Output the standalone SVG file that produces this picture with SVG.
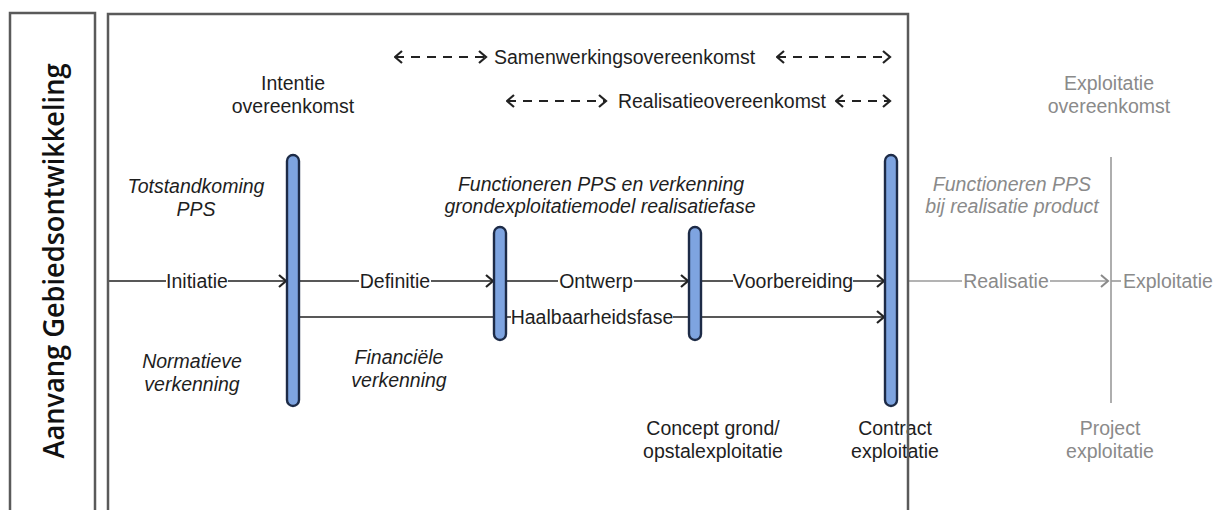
<svg xmlns="http://www.w3.org/2000/svg" width="1223" height="510" viewBox="0 0 1223 510">
  <style>
    .t { font-family: "Liberation Sans", Arial, sans-serif; font-size: 19.5px; fill: #1e1e1e; }
    .m { text-anchor: middle; }
    .i { font-style: italic; }
    .g { fill: #8a8a8a; }
    .ln { stroke: #222; stroke-width: 1.6; fill: none; }
    .gl { stroke: #9a9a9a; stroke-width: 1.6; fill: none; }
    .dash { stroke: #222; stroke-width: 2; fill: none; stroke-dasharray: 9 7; }
    .bar { fill: #7ea4e0; stroke: #1d2b47; stroke-width: 2.4; }
    .frame { fill: none; stroke: #5a5a5a; stroke-width: 2.5; }
    .title { font-family: "Open Sans", "Noto Sans", sans-serif; font-weight: 600; font-size: 29px; fill: #111; text-anchor: middle; }
  </style>
  <defs>
    <marker id="chev" viewBox="0 0 10 14" refX="8.5" refY="7" markerWidth="10" markerHeight="14" markerUnits="userSpaceOnUse" orient="auto-start-reverse">
      <path d="M1.5,1 L8.5,7 L1.5,13" fill="none" stroke="#222" stroke-width="2.2"/>
    </marker>
    <marker id="chevGrey" viewBox="0 0 10 14" refX="8.5" refY="7" markerWidth="10" markerHeight="14" markerUnits="userSpaceOnUse" orient="auto">
      <path d="M1.5,1 L8.5,7 L1.5,13" fill="none" stroke="#8a8a8a" stroke-width="2"/>
    </marker>
  </defs>

  <rect width="1223" height="510" fill="#fff"/>

  <!-- phase arrows and agreement spans -->
  <g id="connectors">
    <path class="ln" d="M107 281 H166 M228 281 H286" marker-end="url(#chev)"/>
    <path class="ln" d="M299 281 H359 M431 281 H493" marker-end="url(#chev)"/>
    <path class="ln" d="M507 281 H558 M634 281 H688" marker-end="url(#chev)"/>
    <path class="ln" d="M702 281 H733 M853 281 H884" marker-end="url(#chev)"/>
    <path class="ln" d="M299 317 H511 M673 317 H884" marker-end="url(#chev)"/>
    <path class="gl" d="M909 281 H962 M1050 281 H1108" marker-end="url(#chevGrey)"/>
    <path class="gl" d="M1111 281 H1121"/>

    <path class="dash" d="M395 57 H486" marker-start="url(#chev)" marker-end="url(#chev)"/>
    <path class="dash" d="M777 57 H890" marker-start="url(#chev)" marker-end="url(#chev)"/>
    <path class="dash" d="M507 101 H606" marker-start="url(#chev)" marker-end="url(#chev)"/>
    <path class="dash" d="M836 101 H890" marker-start="url(#chev)" marker-end="url(#chev)"/>

    <text class="t m" x="197" y="288">Initiatie</text>
    <text class="t m" x="395" y="288">Definitie</text>
    <text class="t m" x="596" y="288">Ontwerp</text>
    <text class="t m" x="793" y="288">Voorbereiding</text>
    <text class="t m" x="592" y="324">Haalbaarheidsfase</text>
    <text class="t m g" x="1006" y="288">Realisatie</text>
    <text class="t g" x="1123" y="288">Exploitatie</text>

    <text class="t" x="494" y="64">Samenwerkingsovereenkomst</text>
    <text class="t m" x="722" y="108">Realisatieovereenkomst</text>
  </g>

  <!-- milestones -->
  <g id="milestone-intentie">
    <rect class="bar" x="287" y="155" width="12" height="251" rx="6"/>
    <text class="t m" x="293" y="90">Intentie</text>
    <text class="t m" x="293" y="113">overeenkomst</text>
  </g>
  <g id="milestone-definitie">
    <rect class="bar" x="494" y="227" width="12" height="113" rx="6"/>
  </g>
  <g id="milestone-ontwerp">
    <rect class="bar" x="689" y="227" width="12" height="113" rx="6"/>
    <text class="t m" x="713" y="435">Concept grond/</text>
    <text class="t m" x="713" y="458">opstalexploitatie</text>
  </g>
  <g id="milestone-contract">
    <rect class="bar" x="885" y="155" width="12" height="251" rx="6"/>
    <text class="t m" x="895" y="435">Contract</text>
    <text class="t m" x="895" y="458">exploitatie</text>
  </g>
  <g id="milestone-exploitatie">
    <path class="gl" d="M1111 157 V403"/>
    <text class="t m g" x="1109" y="90">Exploitatie</text>
    <text class="t m g" x="1109" y="113">overeenkomst</text>
    <text class="t m g" x="1110" y="435">Project</text>
    <text class="t m g" x="1110" y="458">exploitatie</text>
  </g>

  <!-- phase descriptions -->
  <g id="notes">
    <text class="t m i" x="196" y="193">Totstandkoming</text>
    <text class="t m i" x="196" y="216">PPS</text>
    <text class="t m i" x="192" y="368">Normatieve</text>
    <text class="t m i" x="192" y="391">verkenning</text>
    <text class="t m i" x="399" y="364">Financiële</text>
    <text class="t m i" x="399" y="387">verkenning</text>
    <text class="t m i" x="601" y="191">Functioneren PPS en verkenning</text>
    <text class="t m i" x="600" y="213">grondexploitatiemodel realisatiefase</text>
    <text class="t m i g" x="1012" y="191">Functioneren PPS</text>
    <text class="t m i g" x="1012" y="213">bij realisatie product</text>
  </g>

  <!-- frames -->
  <g id="frames">
    <rect class="frame" x="10" y="13" width="85" height="520"/>
    <text class="title" transform="translate(64,261) rotate(-90)" textLength="395" lengthAdjust="spacingAndGlyphs">Aanvang Gebiedsontwikkeling</text>
    <rect class="frame" x="108" y="14" width="800" height="520"/>
  </g>
</svg>
